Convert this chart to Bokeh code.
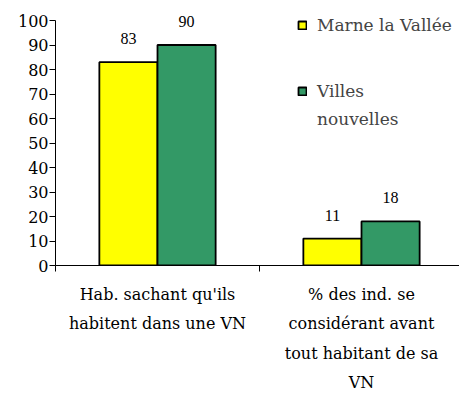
from bokeh.plotting import figure
from bokeh.models import (Range1d, FixedTicker, ColumnDataSource, Legend, LegendItem, LabelSet)
from bokeh.embed import file_html
from bokeh.resources import INLINE

# Data
categories = ["Hab. sachant qu'ils\nhabitent dans une VN",
              "% des ind. se\nconsidérant avant\ntout habitant de sa\nVN"]
series_names = ["Marne la Vallée", "Villes", "nouvelles"]
marne = [83, 11]
villes = [90, 18]
colors = ["#FFFF00", "#339966"]
y_ticks = list(range(0, 101, 10))

FONT = "DejaVu Serif"
FS = "16px"
BAR_W = 0.285
TOP_PAD = 10 / 2.45  # extra data room above 100 for the legend

centers = [i + 0.5 for i in range(len(categories))]

p = figure(width=459, height=396, output_backend="svg", toolbar_location=None,
           x_range=Range1d(0, 404 / 204), y_range=Range1d(0, 100 + TOP_PAD),
           min_border_left=55, min_border_right=0, min_border_top=10,
           min_border_bottom=131)
p.outline_line_color = None
p.xgrid.visible = False
p.ygrid.visible = False
p.background_fill_color = "white"
p.border_fill_color = "white"

renderers = []
for k, (vals, col) in enumerate(zip([marne, villes], colors)):
    xs = [c + (k - 0.5) * BAR_W for c in centers]
    src = ColumnDataSource(dict(x=xs, top=vals, lab=[str(v) for v in vals]))
    r = p.vbar(x="x", top="top", bottom=0, width=BAR_W, source=src,
               fill_color=col, line_color="black", line_width=1.8)
    renderers.append(r)
    p.add_layout(LabelSet(x="x", y="top", text="lab", source=src,
                          text_align="center", text_baseline="bottom", y_offset=18,
                          text_font=FONT, text_font_size=FS, text_color="black"))

# y axis
p.yaxis.ticker = FixedTicker(ticks=y_ticks)
p.yaxis.bounds = (0, 100)
p.yaxis.major_tick_out = 6
p.yaxis.major_tick_in = 0
p.yaxis.minor_tick_out = 0
p.yaxis.minor_tick_in = 0
p.yaxis.major_label_standoff = 1
p.yaxis.major_label_text_font = FONT
p.yaxis.major_label_text_font_size = FS
p.yaxis.major_label_text_color = "black"
p.yaxis.axis_line_color = "black"

# x axis: labels centred on the groups, tick marks at the group boundaries
p.xaxis.ticker = FixedTicker(ticks=centers, minor_ticks=[0, 1, 2])
p.xaxis.major_label_overrides = {c: lab for c, lab in zip(centers, categories)}
p.xaxis.major_tick_out = 0
p.xaxis.major_tick_in = 0
p.xaxis.minor_tick_out = 6
p.xaxis.minor_tick_in = 0
p.xaxis.major_label_standoff = 13
p.xaxis.major_label_text_font = FONT
p.xaxis.major_label_text_font_size = FS
p.xaxis.major_label_text_line_height = 1.56
p.xaxis.major_label_text_color = "black"
p.xaxis.axis_line_color = "black"

common = dict(orientation="vertical", glyph_width=10, glyph_height=10,
              label_standoff=10, label_text_font=FONT, label_text_font_size="17px",
              padding=0, margin=0, border_line_color=None, background_fill_alpha=0)

legend1 = Legend(items=[LegendItem(label=series_names[0], renderers=[renderers[0]])],
                 location=(242, 230), spacing=0, **common)
legend2 = Legend(items=[LegendItem(label=series_names[1], renderers=[renderers[1]]),
                        LegendItem(label=series_names[2], renderers=[])],
                 location=(242, 136), spacing=8, **common)
p.add_layout(legend1)
p.add_layout(legend2)

open("out.html", "w").write(file_html(p, INLINE))
